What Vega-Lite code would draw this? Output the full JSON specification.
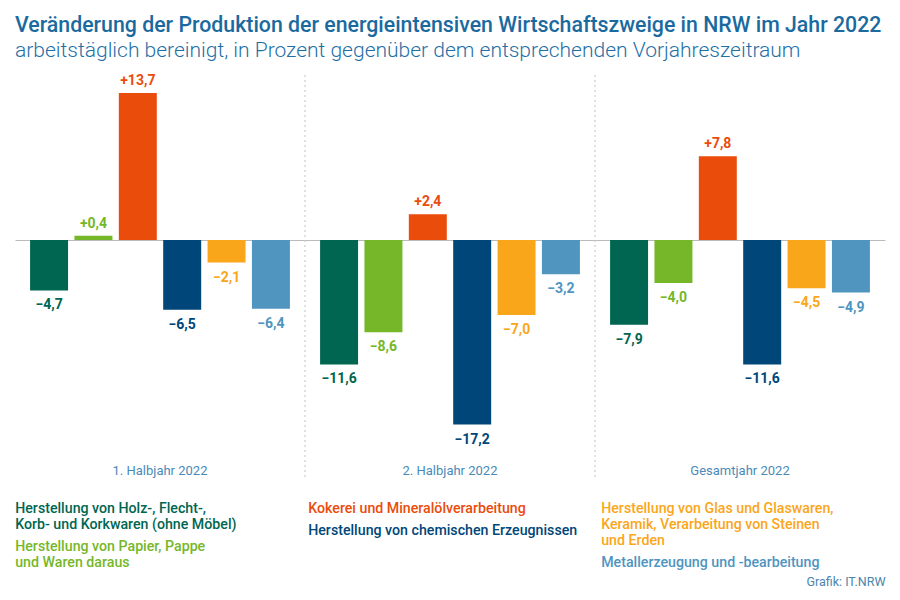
{
  "$schema": "https://vega.github.io/schema/vega-lite/v6.json",
  "autosize": {"type": "none"},
  "width": 870,
  "height": 405,
  "padding": {"left": 15, "top": 75, "right": 15, "bottom": 120},
  "background": "white",
  "title": {
    "text": "Veränderung der Produktion der energieintensiven Wirtschaftszweige in NRW im Jahr 2022",
    "subtitle": "arbeitstäglich bereinigt, in Prozent gegenüber dem entsprechenden Vorjahreszeitraum",
    "anchor": "start",
    "frame": "group",
    "offset": 13,
    "font": "Roboto",
    "fontSize": 21.3,
    "fontWeight": 500,
    "color": "#1a6aa0",
    "subtitleFont": "Roboto",
    "subtitleFontSize": 21,
    "subtitleFontWeight": 300,
    "subtitleColor": "#1f6fa5",
    "subtitlePadding": 4
  },
  "data": {
    "values": [
      {"gruppe": "1. Halbjahr 2022", "zweig": "Herstellung von Holz-, Flecht-, Korb- und Korkwaren (ohne Möbel)", "wert": -4.7},
      {"gruppe": "1. Halbjahr 2022", "zweig": "Herstellung von Papier, Pappe und Waren daraus", "wert": 0.4},
      {"gruppe": "1. Halbjahr 2022", "zweig": "Kokerei und Mineralölverarbeitung", "wert": 13.7},
      {"gruppe": "1. Halbjahr 2022", "zweig": "Herstellung von chemischen Erzeugnissen", "wert": -6.5},
      {"gruppe": "1. Halbjahr 2022", "zweig": "Herstellung von Glas und Glaswaren, Keramik, Verarbeitung von Steinen und Erden", "wert": -2.1},
      {"gruppe": "1. Halbjahr 2022", "zweig": "Metallerzeugung und -bearbeitung", "wert": -6.4},
      {"gruppe": "2. Halbjahr 2022", "zweig": "Herstellung von Holz-, Flecht-, Korb- und Korkwaren (ohne Möbel)", "wert": -11.6},
      {"gruppe": "2. Halbjahr 2022", "zweig": "Herstellung von Papier, Pappe und Waren daraus", "wert": -8.6},
      {"gruppe": "2. Halbjahr 2022", "zweig": "Kokerei und Mineralölverarbeitung", "wert": 2.4},
      {"gruppe": "2. Halbjahr 2022", "zweig": "Herstellung von chemischen Erzeugnissen", "wert": -17.2},
      {"gruppe": "2. Halbjahr 2022", "zweig": "Herstellung von Glas und Glaswaren, Keramik, Verarbeitung von Steinen und Erden", "wert": -7.0},
      {"gruppe": "2. Halbjahr 2022", "zweig": "Metallerzeugung und -bearbeitung", "wert": -3.2},
      {"gruppe": "Gesamtjahr 2022", "zweig": "Herstellung von Holz-, Flecht-, Korb- und Korkwaren (ohne Möbel)", "wert": -7.9},
      {"gruppe": "Gesamtjahr 2022", "zweig": "Herstellung von Papier, Pappe und Waren daraus", "wert": -4.0},
      {"gruppe": "Gesamtjahr 2022", "zweig": "Kokerei und Mineralölverarbeitung", "wert": 7.8},
      {"gruppe": "Gesamtjahr 2022", "zweig": "Herstellung von chemischen Erzeugnissen", "wert": -11.6},
      {"gruppe": "Gesamtjahr 2022", "zweig": "Herstellung von Glas und Glaswaren, Keramik, Verarbeitung von Steinen und Erden", "wert": -4.5},
      {"gruppe": "Gesamtjahr 2022", "zweig": "Metallerzeugung und -bearbeitung", "wert": -4.9}
    ]
  },
  "layer": [
    {
      "transform": [
        {"aggregate": [{"op": "count", "as": "n"}], "groupby": ["gruppe"]},
        {"filter": "datum.gruppe != '1. Halbjahr 2022'"}
      ],
      "mark": {"type": "rule", "color": "#cccccc", "strokeWidth": 1.2, "strokeDash": [2, 3]},
      "encoding": {
        "x": {"field": "gruppe", "type": "nominal", "bandPosition": 0}
      }
    },
    {
      "mark": {"type": "bar"},
      "encoding": {
        "x": {"field": "gruppe", "type": "nominal", "sort": ["1. Halbjahr 2022", "2. Halbjahr 2022", "Gesamtjahr 2022"],
          "scale": {"paddingInner": 0, "paddingOuter": 0},
          "axis": {
            "orient": "bottom", "offset": -20, "domain": false, "ticks": false, "labelAngle": 0, "labelAlign": "center", "labelBaseline": "top",
            "labelFont": "Roboto", "labelFontSize": 13, "labelFontWeight": 400, "labelColor": "#4a8ab8", "labelPadding": 4,
            "title": "Grafik: IT.NRW", "titleFont": "Roboto", "titleFontSize": 12.5, "titleFontWeight": 400, "titleColor": "#4a85ad",
            "titleX": 870, "titleY": 125, "titleAlign": "right", "titleBaseline": "alphabetic", "titleAnchor": null
          }
        },
        "xOffset": {"field": "zweig", "type": "nominal",
          "sort": [
            "Herstellung von Holz-, Flecht-, Korb- und Korkwaren (ohne Möbel)",
            "Herstellung von Papier, Pappe und Waren daraus",
            "Kokerei und Mineralölverarbeitung",
            "Herstellung von chemischen Erzeugnissen",
            "Herstellung von Glas und Glaswaren, Keramik, Verarbeitung von Steinen und Erden",
            "Metallerzeugung und -bearbeitung"
          ],
          "scale": {"paddingInner": 0.144, "paddingOuter": 0.34}
        },
        "y": {"field": "wert", "type": "quantitative",
          "scale": {"domain": [-22.37, 15.38], "nice": false, "zero": false},
          "axis": {"title": null, "labels": false, "ticks": false, "domain": false, "grid": true, "values": [0], "gridColor": "#bbbbbb", "gridWidth": 1.2}
        },
        "color": {"field": "zweig", "type": "nominal",
          "scale": {
            "domain": [
              "Herstellung von Holz-, Flecht-, Korb- und Korkwaren (ohne Möbel)",
              "Herstellung von Papier, Pappe und Waren daraus",
              "Kokerei und Mineralölverarbeitung",
              "Herstellung von chemischen Erzeugnissen",
              "Herstellung von Glas und Glaswaren, Keramik, Verarbeitung von Steinen und Erden",
              "Metallerzeugung und -bearbeitung"
            ],
            "range": ["#006651", "#76b72a", "#ea4c0c", "#004679", "#faa61a", "#4f95bf"]
          },
          "legend": null
        }
      }
    },
    {
      "transform": [{"filter": "datum.wert >= 0"}],
      "mark": {"type": "text", "baseline": "alphabetic", "dy": -8, "font": "Roboto", "fontSize": 14, "fontWeight": 700},
      "encoding": {
        "x": {"field": "gruppe", "type": "nominal", "sort": ["1. Halbjahr 2022", "2. Halbjahr 2022", "Gesamtjahr 2022"]},
        "xOffset": {"field": "zweig", "type": "nominal",
          "sort": [
            "Herstellung von Holz-, Flecht-, Korb- und Korkwaren (ohne Möbel)",
            "Herstellung von Papier, Pappe und Waren daraus",
            "Kokerei und Mineralölverarbeitung",
            "Herstellung von chemischen Erzeugnissen",
            "Herstellung von Glas und Glaswaren, Keramik, Verarbeitung von Steinen und Erden",
            "Metallerzeugung und -bearbeitung"
          ]
        },
        "y": {"field": "wert", "type": "quantitative"},
        "text": {"field": "wert", "type": "quantitative", "format": "+.1f"},
        "color": {"field": "zweig", "type": "nominal", "legend": null}
      }
    },
    {
      "transform": [{"filter": "datum.wert < 0"}],
      "mark": {"type": "text", "baseline": "top", "dy": 8, "font": "Roboto", "fontSize": 14, "fontWeight": 700},
      "encoding": {
        "x": {"field": "gruppe", "type": "nominal", "sort": ["1. Halbjahr 2022", "2. Halbjahr 2022", "Gesamtjahr 2022"]},
        "xOffset": {"field": "zweig", "type": "nominal",
          "sort": [
            "Herstellung von Holz-, Flecht-, Korb- und Korkwaren (ohne Möbel)",
            "Herstellung von Papier, Pappe und Waren daraus",
            "Kokerei und Mineralölverarbeitung",
            "Herstellung von chemischen Erzeugnissen",
            "Herstellung von Glas und Glaswaren, Keramik, Verarbeitung von Steinen und Erden",
            "Metallerzeugung und -bearbeitung"
          ]
        },
        "y": {"field": "wert", "type": "quantitative"},
        "text": {"field": "wert", "type": "quantitative", "format": "+.1f"},
        "color": {"field": "zweig", "type": "nominal", "legend": null}
      }
    },
    {
      "transform": [{"filter": {"field": "zweig", "oneOf": ["Herstellung von Holz-, Flecht-, Korb- und Korkwaren (ohne Möbel)", "Herstellung von Papier, Pappe und Waren daraus"]}}],
      "mark": {"type": "point", "opacity": 0},
      "encoding": {
        "x": {"field": "gruppe", "type": "nominal", "sort": ["1. Halbjahr 2022", "2. Halbjahr 2022", "Gesamtjahr 2022"]},
        "y": {"field": "wert", "type": "quantitative"},
        "shape": {"field": "zweig", "type": "nominal",
          "sort": ["Herstellung von Holz-, Flecht-, Korb- und Korkwaren (ohne Möbel)", "Herstellung von Papier, Pappe und Waren daraus"],
          "legend": {
            "title": null, "orient": "none", "legendX": -14, "legendY": 420,
            "labelColor": {"expr": "scale('color', datum.value)"},
            "labelExpr": "datum.label == 'Herstellung von Holz-, Flecht-, Korb- und Korkwaren (ohne Möbel)' ? ['Herstellung von Holz-, Flecht-,', 'Korb- und Korkwaren (ohne Möbel)'] : ['Herstellung von Papier, Pappe', 'und Waren daraus']",
            "encode": {"labels": {"lineHeight": {"value": 16.3}}}
          }
        }
      }
    },
    {
      "transform": [{"filter": {"field": "zweig", "oneOf": ["Kokerei und Mineralölverarbeitung", "Herstellung von chemischen Erzeugnissen"]}}],
      "mark": {"type": "point", "opacity": 0},
      "encoding": {
        "x": {"field": "gruppe", "type": "nominal", "sort": ["1. Halbjahr 2022", "2. Halbjahr 2022", "Gesamtjahr 2022"]},
        "y": {"field": "wert", "type": "quantitative"},
        "fill": {"field": "zweig", "type": "nominal",
          "scale": {"domain": ["Kokerei und Mineralölverarbeitung", "Herstellung von chemischen Erzeugnissen"], "range": ["#ea4c0c", "#004679"]},
          "legend": {
            "title": null, "orient": "none", "legendX": 279, "legendY": 420,
            "labelColor": {"expr": "scale('color', datum.value)"},
            "encode": {"labels": {"lineHeight": {"value": 16.3}}}
          }
        }
      }
    },
    {
      "transform": [{"filter": {"field": "zweig", "oneOf": ["Herstellung von Glas und Glaswaren, Keramik, Verarbeitung von Steinen und Erden", "Metallerzeugung und -bearbeitung"]}}],
      "mark": {"type": "point", "opacity": 0},
      "encoding": {
        "x": {"field": "gruppe", "type": "nominal", "sort": ["1. Halbjahr 2022", "2. Halbjahr 2022", "Gesamtjahr 2022"]},
        "y": {"field": "wert", "type": "quantitative"},
        "stroke": {"field": "zweig", "type": "nominal",
          "scale": {"domain": ["Herstellung von Glas und Glaswaren, Keramik, Verarbeitung von Steinen und Erden", "Metallerzeugung und -bearbeitung"], "range": ["#faa61a", "#4f95bf"]},
          "legend": {
            "title": null, "orient": "none", "legendX": 572, "legendY": 420,
            "labelColor": {"expr": "scale('color', datum.value)"},
            "labelExpr": "datum.label == 'Herstellung von Glas und Glaswaren, Keramik, Verarbeitung von Steinen und Erden' ? ['Herstellung von Glas und Glaswaren,', 'Keramik, Verarbeitung von Steinen', 'und Erden'] : datum.label",
            "encode": {"labels": {"lineHeight": {"value": 16.3}}}
          }
        }
      }
    }
  ],
  "config": {
    "view": {"stroke": null},
    "font": "Roboto",
    "legend": {
      "direction": "vertical", "padding": 0, "symbolSize": 1, "symbolOpacity": 0, "symbolStrokeWidth": 0,
      "symbolStrokeColor": "transparent", "symbolFillColor": "transparent",
      "labelOffset": 0, "labelLimit": 500, "labelFont": "Roboto", "labelFontSize": 14.2, "labelFontWeight": 500,
      "labelBaseline": "top", "rowPadding": -0.5
    },
    "locale": {"number": {"decimal": ",", "thousands": ".", "grouping": [3], "currency": ["", " €"], "minus": "−"}}
  }
}
